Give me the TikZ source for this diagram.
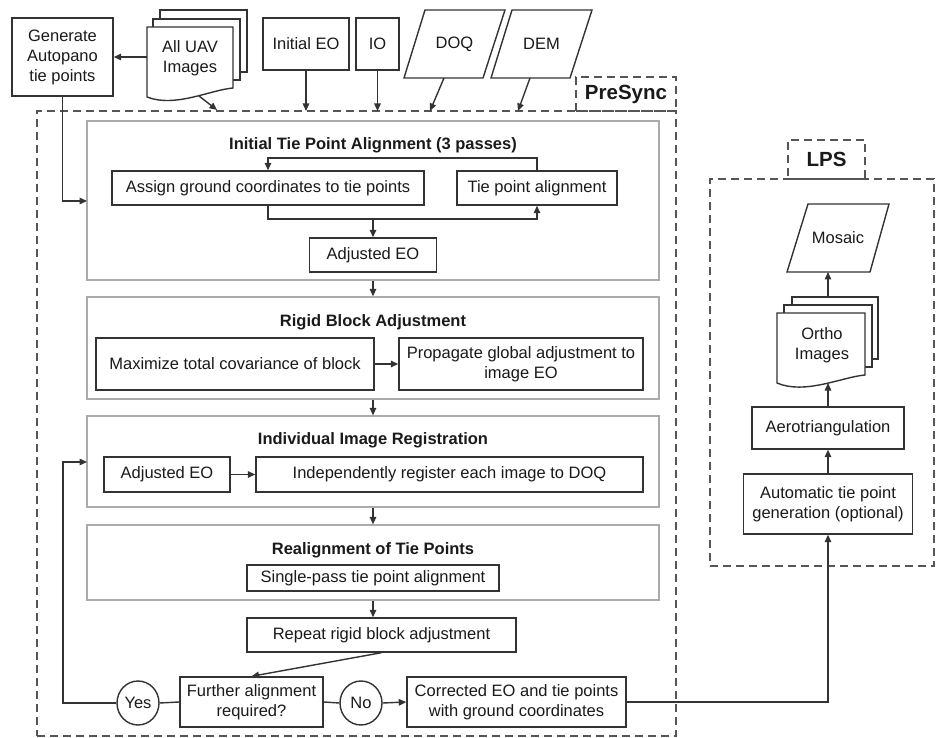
\documentclass[tikz,border=0pt]{standalone}
\usepackage{fontspec}
\setmainfont{Liberation Sans}
\usetikzlibrary{arrows.meta,shapes.geometric}
\definecolor{ln}{HTML}{333333}
\definecolor{tx}{HTML}{1A1A1A}
\definecolor{secc}{HTML}{ABABAB}
\definecolor{dsh}{HTML}{555555}
\begin{document}
\begin{tikzpicture}[x=1pt,y=-1pt,
 every node/.style={text=tx, font=\fontsize{16.5}{20}\selectfont},
 box/.style={draw=ln, line width=1.4pt, fill=white, inner sep=0pt, align=center},
 secbox/.style={draw=secc, line width=1.2pt, inner sep=0pt},
 ttl/.style={font=\fontsize{16.5}{20}\selectfont\bfseries},
 lbl/.style={font=\fontsize{20.5}{24}\selectfont\bfseries},
 conn/.style={draw=ln, line width=1.4pt},
 arr/.style={conn, -{Triangle[length=7.5pt,width=6.5pt]}},
 dashbox/.style={draw=dsh, line width=1.3pt, dash pattern=on 8pt off 5pt},
 docf/.style={draw=ln, line width=1.4pt, fill=white},
 circ/.style={draw=ln, line width=1.4pt, ellipse, minimum width=42pt, minimum height=44pt, inner sep=0pt}
]
\useasboundingbox (0,0) rectangle (938,738);
\fill[white] (0,0) rectangle (938,738);

% ---------- PreSync frame ----------
\node[dashbox, minimum width=639pt, minimum height=625pt, inner sep=0pt] (presync) at (356.5,423.5) {};
\node[dashbox, lbl, minimum width=100pt, minimum height=34pt, inner sep=0pt] (presynclbl) at (626,94) {PreSync};

% ---------- inputs ----------
\node[box, minimum width=101pt, minimum height=78pt] (gen) at (62.5,57) {Generate\\Autopano\\tie points};

\draw[docf] (160,10) rectangle (247,72);
\draw[docf] (153,19) rectangle (240,80);
\draw[docf] (147,27) -- (233,27) -- (233,88) .. controls (210,90) and (175,108) .. (147,97) -- cycle;
\node[align=center] (uav) at (190,58) {All UAV\\Images};
\coordinate (uavL) at (147,57);
\coordinate (uavB) at (199,96);
\coordinate (psUAV) at (217,110);

\node[box, minimum width=86pt, minimum height=52pt] (ieo) at (306,44) {Initial EO};
\node[box, minimum width=43pt, minimum height=52pt] (io) at (377.5,44) {IO};

\draw[docf] (425,10) -- (505,10) -- (483,78) -- (404,78) -- cycle;
\node (doq) at (454.5,44) {DOQ};
\draw[docf] (512,10) -- (592,10) -- (570,78) -- (491,78) -- cycle;
\node (dem) at (541.5,44) {DEM};
\coordinate (doqB) at (444,78);
\coordinate (demB) at (530,78);
\coordinate (psIEO) at (306,111);
\coordinate (psIO) at (377.5,111);
\coordinate (psDOQ) at (430,111);
\coordinate (psDEM) at (518,111);

% ---------- Section 1 ----------
\node[secbox, minimum width=572pt, minimum height=159pt] (sec1) at (373,200.5) {};
\node[ttl] (t1) at (373,145) {Initial Tie Point Alignment (3 passes)};
\node[box, minimum width=312pt, minimum height=34pt] (assign) at (268,188) {Assign ground coordinates to tie points};
\node[box, minimum width=160pt, minimum height=34pt] (tie) at (537,188) {Tie point alignment};
\node[box, minimum width=127pt, minimum height=34pt] (adj1) at (373,255) {Adjusted EO};
\coordinate (loopT) at (537,158);
\coordinate (loopB) at (268,219);
\coordinate (loopM) at (373,219);
\coordinate (sec1in) at (87,201);

% ---------- Section 2 ----------
\node[secbox, minimum width=572pt, minimum height=102pt] (sec2) at (373,348) {};
\node[ttl] (t2) at (373,322) {Rigid Block Adjustment};
\node[box, minimum width=278pt, minimum height=52pt] (maxim) at (235,364) {Maximize total covariance of block};
\node[box, minimum width=244pt, minimum height=52pt] (prop) at (521,364) {Propagate global adjustment to\\image EO};

% ---------- Section 3 ----------
\node[secbox, minimum width=572pt, minimum height=91pt] (sec3) at (373,461.5) {};
\node[ttl] (t3) at (373,440) {Individual Image Registration};
\node[box, minimum width=126pt, minimum height=35pt] (adj2) at (167,474.5) {Adjusted EO};
\node[box, minimum width=387pt, minimum height=35pt] (indep) at (449.5,474.5) {Independently register each image to DOQ};
\coordinate (sec3in) at (87,462);

% ---------- Section 4 ----------
\node[secbox, minimum width=572pt, minimum height=75pt] (sec4) at (373,562.5) {};
\node[ttl] (t4) at (373,550) {Realignment of Tie Points};
\node[box, minimum width=252pt, minimum height=26pt] (single) at (373,578) {Single-pass tie point alignment};

% ---------- bottom ----------
\node[box, minimum width=269pt, minimum height=34pt] (repeat) at (381.5,635) {Repeat rigid block adjustment};
\node[box, minimum width=143pt, minimum height=50pt] (further) at (251.5,702) {Further alignment\\required?};
\node[circ] (yes) at (138,703) {Yes};
\node[circ] (no) at (361,703) {No};
\node[box, minimum width=219pt, minimum height=50pt] (corr) at (516.5,702) {Corrected EO and tie points\\with ground coordinates};
\coordinate (loopL) at (63,703);

% ---------- LPS ----------
\node[dashbox, minimum width=224pt, minimum height=387pt, inner sep=0pt] (lps) at (822,372.5) {};
\node[dashbox, lbl, minimum width=77pt, minimum height=39pt, inner sep=0pt] (lpslbl) at (826.5,159.5) {LPS};

\draw[docf] (808,204) -- (889,204) -- (870,272) -- (787,272) -- cycle;
\node (mosaic) at (838,238) {Mosaic};
\coordinate (mosB) at (828,272);

\draw[docf] (792,297) rectangle (878,359);
\draw[docf] (784,305) rectangle (872,367);
\draw[docf] (777,313) -- (865,313) -- (865,375) .. controls (842,377) and (805,395) .. (777,383) -- cycle;
\node[align=center] (ortho) at (822,345) {Ortho\\Images};
\coordinate (orthoT) at (828,297);
\coordinate (orthoB) at (828,383);

\node[box, minimum width=152pt, minimum height=42pt] (aero) at (828,428) {Aerotriangulation};
\node[box, minimum width=169pt, minimum height=60pt] (auto) at (828,504) {Automatic tie point\\generation (optional)};

% ---------- connectors ----------
\draw[arr] (uavL) -- (gen.east);
\draw[arr] (uavB) -- (psUAV);
\draw[arr] (ieo.south) -- (psIEO);
\draw[arr] (io.south) -- (psIO);
\draw[arr] (doqB) -- (psDOQ);
\draw[arr] (demB) -- (psDEM);
\draw[arr] (gen.south) |- (sec1in);

\draw[arr] (tie.north) -- (loopT) -| (assign.north);
\draw[arr] (assign.south) -- (loopB) -| (tie.south);
\draw[arr] (loopM) -- (adj1.north);

\draw[arr] (sec1.south) -- (sec2.north);
\draw[arr] (maxim.east) -- (prop.west);
\draw[arr] (sec2.south) -- (sec3.north);
\draw[arr] (adj2.east) -- (indep.west);
\draw[arr] (sec3.south) -- (sec4.north);
\draw[arr] (sec4.south) -- (sec4.south |- repeat.north);
\draw[arr] (repeat.south) -- (further.north);

\draw[conn] (further.west) -- (yes.east);
\draw[arr] (yes.west) -- (loopL) |- (sec3in);
\draw[conn] (further.east) -- (no.west);
\draw[arr] (no.east) -- (corr.west);
\draw[arr] (corr.east) -| (auto.south);

\draw[arr] (auto.north) -- (aero.south);
\draw[arr] (aero.north) -- (orthoB);
\draw[arr] (orthoT) -- (mosB);
\end{tikzpicture}
\end{document}
